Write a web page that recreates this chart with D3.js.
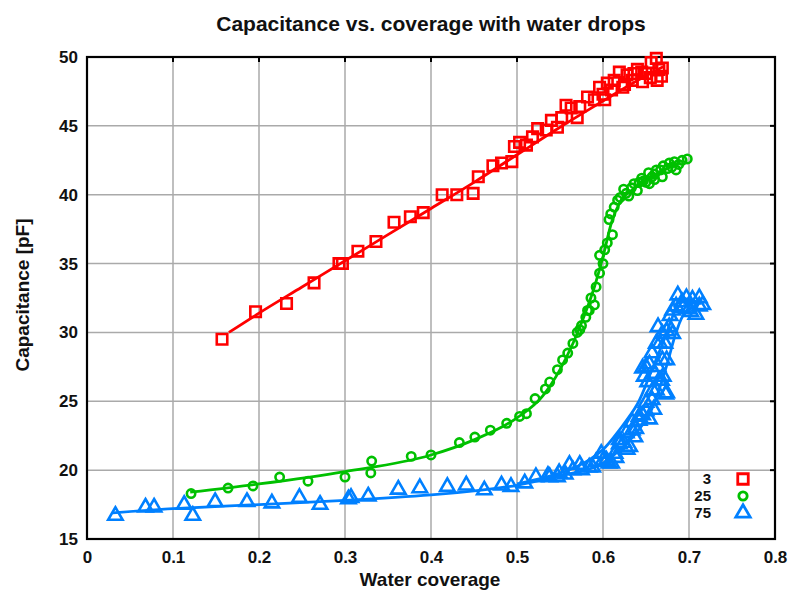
<!DOCTYPE html>
<html>
<head>
<meta charset="utf-8">
<script src="https://cdn.jsdelivr.net/npm/d3@7"></script>
<style>
  body { margin: 0; background: #fff; }
  svg text { font-family: "Liberation Sans", Arial, sans-serif; font-weight: bold; fill: #111; }
</style>
</head>
<body>
<div id="chart"></div>
<script>
// tick values
const xTicks = [0, 0.1, 0.2, 0.3, 0.4, 0.5, 0.6, 0.7, 0.8];
const yTicks = [15, 20, 25, 30, 35, 40, 45, 50];

// legend entries
const seriesNames = ["3", "25", "75"];

// measured points [coverage, capacitance]
const points3 = [
  [0.157,29.5],[0.196,31.5],[0.232,32.1],[0.264,33.6],[0.293,35.0],[0.297,35.0],[0.315,35.9],
  [0.336,36.6],[0.357,38.0],[0.376,38.4],[0.391,38.7],[0.413,40.0],[0.43,40.0],[0.449,40.1],
  [0.455,41.3],[0.472,42.1],[0.482,42.3],[0.494,42.4],[0.497,43.5],[0.503,43.8],[0.511,43.6],
  [0.518,44.2],[0.524,44.8],[0.534,44.7],[0.540,45.4],[0.547,44.9],[0.552,45.6],[0.557,46.5],
  [0.563,46.3],[0.570,45.6],[0.573,46.4],[0.582,47.1],[0.590,46.9],[0.596,47.8],[0.602,46.9],
  [0.605,48.1],[0.613,48.3],[0.619,48.9],[0.623,47.8],[0.628,48.7],[0.634,48.3],[0.640,49.1],
  [0.646,48.2],[0.650,48.8],[0.656,49.6],[0.662,49.9],[0.665,49.1],[0.669,49.2],[0.663,48.3],
  [0.610,47.6],[0.625,48.0],[0.655,48.5],[0.645,48.9],[0.600,47.3],[0.636,48.8],[0.668,48.6]
];
const points25 = [
  [0.121,18.3],[0.164,18.7],[0.193,18.85],[0.224,19.5],[0.257,19.2],[0.300,19.5],[0.331,20.66],
  [0.330,19.8],[0.377,21.0],[0.400,21.1],[0.433,22.0],[0.451,22.4],[0.469,22.9],[0.488,23.4],
  [0.503,23.9],[0.511,24.1],[0.521,25.2],[0.533,25.9],[0.538,26.4],[0.547,27.3],[0.553,28.0],
  [0.559,28.5],[0.565,29.2],[0.570,30.0],[0.573,30.2],[0.575,30.5],[0.580,31.1],[0.582,31.6],
  [0.584,31.6],[0.590,32.0],[0.592,33.3],[0.596,34.3],[0.600,35.0],[0.596,35.6],[0.605,36.5],
  [0.611,37.1],[0.607,38.2],[0.613,39.1],[0.617,39.6],[0.627,40.1],[0.633,40.5],[0.636,40.8],
  [0.640,40.3],[0.645,41.2],[0.647,41.0],[0.654,40.8],[0.653,41.6],[0.660,41.5],[0.662,41.8],
  [0.669,41.3],[0.670,42.1],[0.677,42.3],[0.685,41.8],[0.683,42.4],[0.692,42.5],[0.698,42.6],
  [0.620,39.8],[0.630,39.9],[0.650,40.9],[0.660,41.1],[0.675,41.9],[0.609,38.6],[0.602,36.0],
  [0.624,40.4],[0.642,40.9],[0.657,41.3],[0.667,41.8],[0.680,42.0],[0.688,42.2],[0.586,32.5]
];
const points75 = [
  [0.033,16.7],[0.068,17.3],[0.078,17.3],[0.113,17.5],[0.123,16.7],[0.149,17.7],[0.186,17.7],
  [0.215,17.6],[0.247,18.0],[0.271,17.5],[0.304,17.9],[0.307,18.0],[0.327,18.1],[0.362,18.6],
  [0.387,18.7],[0.419,18.8],[0.441,18.9],[0.462,18.55],[0.482,18.9],[0.493,18.8],[0.509,19.05],
  [0.522,19.5],[0.536,19.6],[0.547,19.5],[0.538,19.5],[0.549,19.8],[0.561,20.4],[0.565,20.0],
  [0.573,20.4],[0.575,20.0],[0.584,20.2],[0.588,20.2],[0.598,21.2],[0.600,20.7],[0.604,20.7],
  [0.607,20.5],[0.610,20.5],[0.619,21.9],[0.619,22.2],[0.627,22.7],[0.631,21.7],[0.634,23.5],
  [0.634,22.9],[0.642,23.6],[0.642,23.9],[0.650,24.3],[0.650,24.9],[0.654,23.7],[0.657,25.1],
  [0.658,25.8],[0.662,25.8],[0.665,26.5],[0.668,26.5],[0.673,25.5],[0.674,25.6],[0.669,28.0],
  [0.674,28.0],[0.646,27.4],[0.650,27.5],[0.654,27.7],[0.657,28.5],[0.662,29.2],[0.666,29.2],
  [0.669,29.9],[0.674,30.1],[0.677,30.4],[0.681,29.9],[0.681,31.6],[0.685,31.9],[0.687,32.7],
  [0.692,32.2],[0.697,32.5],[0.700,31.7],[0.708,31.3],[0.712,31.9],[0.712,32.5],[0.716,32.0],
  [0.556,19.7],[0.592,20.6],[0.614,21.2],[0.624,22.0],[0.638,23.0],[0.646,24.0],[0.652,26.4],
  [0.660,27.0],[0.648,26.8],[0.664,27.5],[0.670,26.8],[0.659,24.4],[0.664,30.4],[0.672,29.2],
  [0.678,31.2],[0.693,31.8],[0.704,32.4],[0.702,31.5],[0.615,20.9],[0.628,21.5],[0.637,22.4]
];

// smoothed curves drawn through each set
const fit3 = [
  [0.165,30.0],[0.2,31.4],[0.25,33.3],[0.3,35.2],[0.35,37.1],[0.4,39.0],[0.45,40.9],
  [0.5,42.9],[0.55,44.9],[0.6,46.8],[0.64,48.3],[0.67,49.3]
];
const fit25 = [
  [0.12,18.4],[0.2,19.0],[0.3,19.9],[0.4,21.1],[0.45,22.2],[0.5,23.8],[0.53,25.4],[0.55,27.3],
  [0.565,29.2],[0.58,31.5],[0.59,33.3],[0.6,35.5],[0.61,38.0],[0.62,39.5],[0.635,40.4],
  [0.66,41.4],[0.69,42.4]
];
const fit75up = [
  [0.03,16.9],[0.1,17.2],[0.2,17.5],[0.3,17.8],[0.4,18.2],[0.45,18.5],[0.5,18.9],[0.55,19.6],
  [0.58,20.0],[0.6,20.5],[0.62,21.5],[0.64,22.8],[0.655,24.2],[0.665,25.8],[0.675,27.8],
  [0.685,30.0],[0.695,31.4],[0.71,32.0]
];
const fit75down = [
  [0.71,32.2],[0.69,32.4],[0.68,31.0],[0.67,29.3],[0.655,27.0],[0.64,24.8],[0.62,23.0],
  [0.6,21.5],[0.58,20.6],[0.56,20.0],[0.54,19.6],[0.5,19.0]
];

const colors = ["#ff0000", "#00c000", "#0080ff"];

const width = 791, height = 590;
const svg = d3.select("#chart").append("svg")
  .attr("width", width)
  .attr("height", height);

const x = d3.scaleLinear().domain([0, 0.8]).range([87, 775]);
const y = d3.scaleLinear().domain([15, 50]).range([539, 57]);

// grid
svg.append("g").selectAll("line")
  .data(xTicks.slice(1, -1))
  .enter().append("line")
  .attr("x1", d => x(d)).attr("x2", d => x(d))
  .attr("y1", y(15)).attr("y2", y(50))
  .attr("stroke", "#aaa").attr("stroke-width", 1.5);
svg.append("g").selectAll("line")
  .data(yTicks.slice(1, -1))
  .enter().append("line")
  .attr("x1", x(0)).attr("x2", x(0.8))
  .attr("y1", d => y(d)).attr("y2", d => y(d))
  .attr("stroke", "#aaa").attr("stroke-width", 1.5);

// axes
const xAxis = d3.axisBottom(x).tickValues(xTicks).tickSize(0).tickPadding(12)
  .tickFormat(d => d === 0 ? "0" : d3.format(".1f")(d));
const yAxis = d3.axisLeft(y).tickValues(yTicks).tickSize(0).tickPadding(9);

svg.append("g").attr("transform", `translate(0,${y(15)})`).call(xAxis)
  .call(g => g.select(".domain").remove())
  .selectAll("text").style("font-size", "17px").attr("font-family", null).attr("fill", "#111");
svg.append("g").attr("transform", `translate(${x(0)},0)`).call(yAxis)
  .call(g => g.select(".domain").remove())
  .selectAll("text").style("font-size", "17px").attr("font-family", null).attr("fill", "#111");

// inward ticks on the top and right
svg.append("g").selectAll("line")
  .data(xTicks.slice(1, -1))
  .enter().append("line")
  .attr("x1", d => x(d)).attr("x2", d => x(d))
  .attr("y1", y(50)).attr("y2", y(50) + 5)
  .attr("stroke", "#000").attr("stroke-width", 2);
svg.append("g").selectAll("line")
  .data(yTicks.slice(1, -1))
  .enter().append("line")
  .attr("x1", x(0.8) - 5).attr("x2", x(0.8))
  .attr("y1", d => y(d)).attr("y2", d => y(d))
  .attr("stroke", "#000").attr("stroke-width", 2);

// frame
svg.append("rect")
  .attr("x", x(0)).attr("y", y(50))
  .attr("width", x(0.8) - x(0)).attr("height", y(15) - y(50))
  .attr("fill", "none").attr("stroke", "#000").attr("stroke-width", 2.2);

// fitted lines
const line = d3.line().x(d => x(d[0])).y(d => y(d[1])).curve(d3.curveMonotoneX);
const loopLine = d3.line().x(d => x(d[0])).y(d => y(d[1])).curve(d3.curveCatmullRom);
svg.append("path").datum(fit3).attr("d", line)
  .attr("fill", "none").attr("stroke", colors[0]).attr("stroke-width", 2.8);
svg.append("path").datum(fit25).attr("d", line)
  .attr("fill", "none").attr("stroke", colors[1]).attr("stroke-width", 2.8);
svg.append("path").datum(fit75up).attr("d", loopLine)
  .attr("fill", "none").attr("stroke", colors[2]).attr("stroke-width", 2.8);
svg.append("path").datum(fit75down).attr("d", loopLine)
  .attr("fill", "none").attr("stroke", colors[2]).attr("stroke-width", 2.8);

// markers
const square = d3.symbol().type(d3.symbolSquare).size(110);
const circle = d3.symbol().type(d3.symbolCircle).size(55);
const triangle = d3.symbol().type(d3.symbolTriangle).size(90);

function drawPoints(data, sym, color) {
  svg.append("g").selectAll("path")
    .data(data)
    .enter().append("path")
    .attr("d", sym)
    .attr("transform", d => `translate(${x(d[0])},${y(d[1])})`)
    .attr("fill", "none")
    .attr("stroke", color)
    .attr("stroke-width", 2.6);
}
drawPoints(points3, square, colors[0]);
drawPoints(points25, circle, colors[1]);
drawPoints(points75, triangle, colors[2]);

// legend
const legendSyms = [square, circle, triangle];
const legend = svg.append("g");
seriesNames.forEach((name, i) => {
  const ly = 479 + i * 17;
  legend.append("text")
    .attr("x", 711).attr("y", ly + 5)
    .attr("text-anchor", "end")
    .style("font-size", "15px")
    .text(name);
  legend.append("path")
    .attr("d", legendSyms[i])
    .attr("transform", `translate(743,${ly})`)
    .attr("fill", "none")
    .attr("stroke", colors[i])
    .attr("stroke-width", 2.8);
});

// titles
svg.append("text")
  .attr("x", 431).attr("y", 31)
  .attr("text-anchor", "middle")
  .style("font-size", "21px")
  .text("Capacitance vs. coverage with water drops");
svg.append("text")
  .attr("x", 430).attr("y", 586)
  .attr("text-anchor", "middle")
  .style("font-size", "19px")
  .text("Water coverage");
svg.append("text")
  .attr("transform", "translate(29,295) rotate(-90)")
  .attr("text-anchor", "middle")
  .style("font-size", "19px")
  .text("Capacitance [pF]");
</script>
</body>
</html>
